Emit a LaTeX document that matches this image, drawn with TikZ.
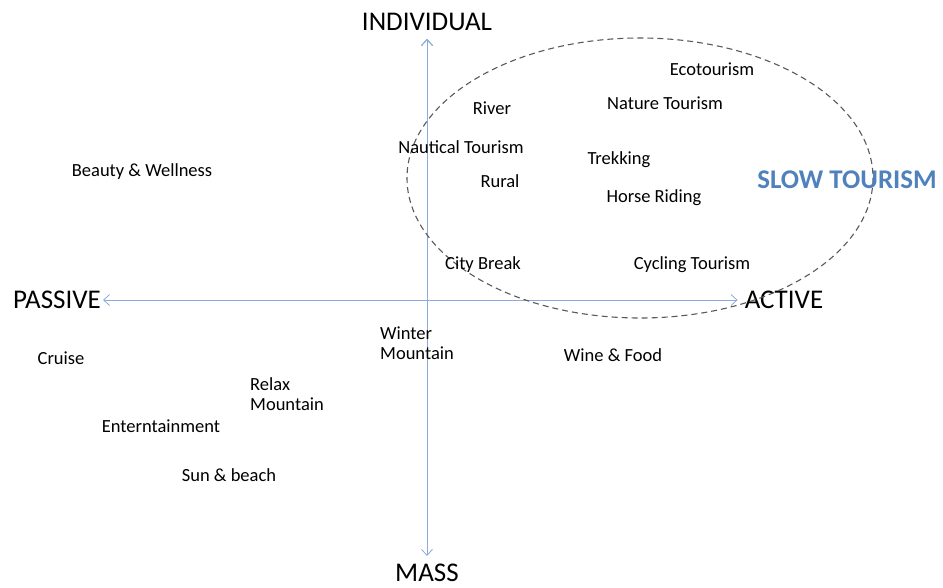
\documentclass[tikz,border=0pt]{standalone}
\usepackage{fontspec}
\setmainfont{Carlito}
\usepackage{tikz}
\usetikzlibrary{arrows.meta}
\usetikzlibrary{positioning}
\definecolor{axisblue}{HTML}{8EA9DB}
\definecolor{slowblue}{HTML}{4F81BD}
\tikzstyle{axis}=[draw=axisblue,line width=0.8pt,{Straight Barb[length=6pt,width=11pt]}-{Straight Barb[length=6pt,width=11pt]}]
\tikzstyle{pole}=[inner sep=2pt,font=\fontsize{27}{30}\selectfont]
\tikzstyle{kind}=[inner sep=1pt,font=\fontsize{18.5}{20}\selectfont,align=left]

\begin{document}
\begin{tikzpicture}[x=1pt,y=-1pt]
\useasboundingbox (0,0) rectangle (943,587);
% poles
\node [pole] (ind) at (427,22) {INDIVIDUAL};
\node [pole] (mass) at (427,573) {MASS};
\node [pole] (pas) at (57,300) {PASSIVE};
\node [pole] (act) at (784,300) {ACTIVE};
\draw [axis] (mass.north) ++(0,-6) coordinate (mtip) (ind.south) ++(0,6) coordinate (itip);
\draw [axis] (mtip) -- (itip);
\draw [axis,shorten >=5pt] (pas.east) -- (act.west);
% slow tourism area
\draw [dash pattern=on 6pt off 4pt,line width=1.1pt,draw=black!65] (640,178) ellipse [x radius=233,y radius=140];
\node [font=\fontsize{27}{30}\selectfont\bfseries,text=slowblue] (slow) at (847,180) {SLOW TOURISM};
% kinds of tourism
\node [kind] (eco) at (712,69) {Ecotourism};
\node [kind] (river) at (492,108) {River};
\node [kind] (nature) at (665,103) {Nature Tourism};
\node [kind] (naut) at (461,147) {Nautical Tourism};
\node [kind] (trek) at (619,160) {Trekking};
\node [kind] (beauty) at (142,172) {Beauty \& Wellness};
\node [kind] (rural) at (500,181) {Rural};
\node [kind] (horse) at (654,198) {Horse Riding};
\node [kind] (city) at (483,265) {City Break};
\node [kind] (cycle) at (692,265) {Cycling Tourism};
\node [kind,anchor=west] (winter) at (379,343) {Winter\\Mountain};
\node [kind] (wine) at (613,355) {Wine \& Food};
\node [kind] (cruise) at (61,358) {Cruise};
\node [kind,anchor=west] (relax) at (249,394) {Relax\\Mountain};
\node [kind] (enter) at (161,426) {Enterntainment};
\node [kind] (sun) at (229,475) {Sun \& beach};
\end{tikzpicture}
\end{document}
